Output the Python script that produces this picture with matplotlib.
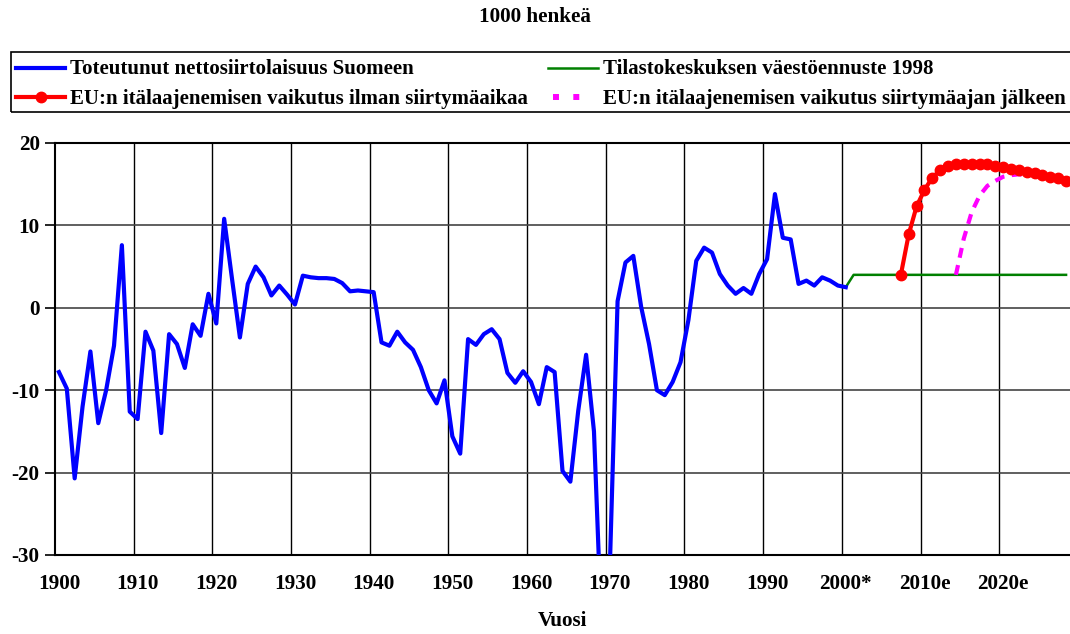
import matplotlib

matplotlib.use("Agg")
import matplotlib.pyplot as plt
from matplotlib.lines import Line2D
from matplotlib.patches import Rectangle
import numpy as np

# realised net migration to Finland, thousands, 1900-2000
YEARS_ACT = np.arange(1900, 2001)
NET_ACT = [
    -7.8, -9.8, -20.7, -12.0, -5.3, -14.0, -10.0, -4.6, 7.6, -12.6,
    -13.5, -2.9, -5.2, -15.2, -3.2, -4.4, -7.3, -2.0, -3.4, 1.7,
    -1.9, 10.8, 3.5, -3.6, 2.9, 5.0, 3.7, 1.5, 2.7, 1.6,
    0.4, 3.9, 3.7, 3.6, 3.6, 3.5, 3.0, 2.0, 2.1, 2.0,
    1.9, -4.2, -4.6, -2.9, -4.2, -5.1, -7.2, -10.0, -11.6, -8.8,
    -15.6, -17.7, -3.8, -4.5, -3.2, -2.6, -3.8, -7.9, -9.1, -7.7,
    -9.0, -11.7, -7.2, -7.8, -19.8, -21.1, -12.5, -5.7, -15.0, -40.0,
    -32.0, 0.8, 5.5, 6.3, 0.1, -4.4, -10.0, -10.6, -9.0, -6.6,
    -1.5, 5.7, 7.3, 6.7, 4.1, 2.7, 1.7, 2.4, 1.7, 4.1,
    5.9, 13.8, 8.5, 8.3, 2.9, 3.3, 2.7, 3.7, 3.3, 2.7,
    2.5,
]

# Statistics Finland 1998 projection
YEARS_PROJ = np.arange(2000, 2029)
NET_PROJ = [2.5] + [4.0] * 28

# EU eastern enlargement, no transition period
YEARS_EU = np.arange(2007, 2029)
NET_EU = [
    4.0, 8.9, 12.3, 14.3, 15.8, 16.7, 17.2, 17.4, 17.5, 17.5, 17.5,
    17.4, 17.2, 17.1, 16.9, 16.7, 16.5, 16.3, 16.1, 15.9, 15.7, 15.4,
]

# EU eastern enlargement, after transition period
YEARS_TR = np.arange(2014, 2025)
NET_TR = [4.0, 8.4, 11.6, 13.6, 14.8, 15.4, 15.9, 16.1, 16.2, 16.1, 16.3]

TICK_YEARS = np.arange(1900, 2030, 10)
TICK_LABELS = ["1900", "1910", "1920", "1930", "1940", "1950", "1960",
               "1970", "1980", "1990", "2000*", "2010e", "2020e"]

LEGEND_LABELS = [
    "Toteutunut nettosiirtolaisuus Suomeen",
    "Tilastokeskuksen väestöennuste 1998",
    "EU:n itälaajenemisen vaikutus ilman siirtymäaikaa",
    "EU:n itälaajenemisen vaikutus siirtymäajan jälkeen",
]

plt.rcParams.update({
    "font.family": ["Liberation Serif", "DejaVu Serif"],
    "font.weight": "bold",
    "axes.labelweight": "bold",
    "font.size": 15.2,
    "axes.unicode_minus": False,
})

BLUE, GREEN, RED, MAGENTA = "#0000ff", "#008000", "#ff0000", "#ff00ff"

W, H = 1070, 634
fig = plt.figure(figsize=(W / 100, H / 100), dpi=100)
ax = fig.add_axes([55 / W, 1 - 555 / H, (W - 55) / W, (555 - 143) / H])

ax.plot(YEARS_ACT, NET_ACT, color=BLUE, lw=3.0, zorder=4, solid_joinstyle="round")
ax.plot(YEARS_PROJ, NET_PROJ, color=GREEN, lw=1.8, zorder=3)
ax.plot(YEARS_TR, NET_TR, color=MAGENTA, lw=3.0, dashes=(2.4, 1.8), zorder=4)
ax.plot(YEARS_EU, NET_EU, color=RED, lw=3.0, marker="o", ms=7.5, zorder=5)

ax.set_xlim(1899.5, 2028.5)
ax.set_ylim(-30, 20)
ax.set_yticks([-30, -20, -10, 0, 10, 20])
ax.set_xticks(TICK_YEARS, TICK_LABELS)
ax.set_xticks(TICK_YEARS[1:] - 0.5, minor=True)
ax.tick_params(axis="x", which="both", length=0, pad=13.5)
ax.tick_params(axis="y", length=7, width=1.2, pad=4)
ax.grid(axis="x", which="minor", color="black", lw=1.0)
ax.grid(axis="y", which="major", color="#444444", lw=1.2)
ax.set_axisbelow(True)
for side in ("left", "top", "bottom"):
    ax.spines[side].set_linewidth(1.5)
ax.spines["right"].set_visible(False)
ax.set_xlabel("Vuosi")
ax.xaxis.set_label_coords(0.5, -0.135)

fig.text(0.5, 1 - 17 / H, "1000 henkeä", ha="center", va="center")

# legend drawn by hand in figure pixels so the two columns line up as in the source
fig.patches.append(Rectangle((11 / W, 1 - 112 / H), (1075 - 11) / W, 60 / H,
                             transform=fig.transFigure, fill=False,
                             edgecolor="black", lw=1.2))
rows = [(68, 69), (97, 99)]   # (handle y, text y)
cols = [(16, 65, 70), (548, 598, 603)]
styles = [
    dict(color=BLUE, lw=3.0),
    dict(color=GREEN, lw=1.8),
    dict(color=RED, lw=3.0),
    None,
]
for i, label in enumerate(LEGEND_LABELS):
    x0, x1, xt = cols[i % 2]
    yh, yt = rows[i // 2]
    if styles[i] is not None:
        fig.add_artist(Line2D([x0 / W, x1 / W], [1 - yh / H] * 2,
                              transform=fig.transFigure, **styles[i]))
    else:
        fig.add_artist(Line2D([553 / W, 583 / W], [1 - yh / H] * 2,
                              transform=fig.transFigure, color=MAGENTA, lw=4.3,
                              dashes=(1.0, 2.4), solid_capstyle="butt"))
    if i == 2:
        fig.add_artist(Line2D([(x0 + x1) / 2 / W], [1 - yh / H], transform=fig.transFigure,
                              color=RED, marker="o", ms=7.5, lw=0))
    fig.text(xt / W, 1 - yt / H, label, ha="left", va="center", fontsize=15)

fig.savefig("out.png", dpi=100)
